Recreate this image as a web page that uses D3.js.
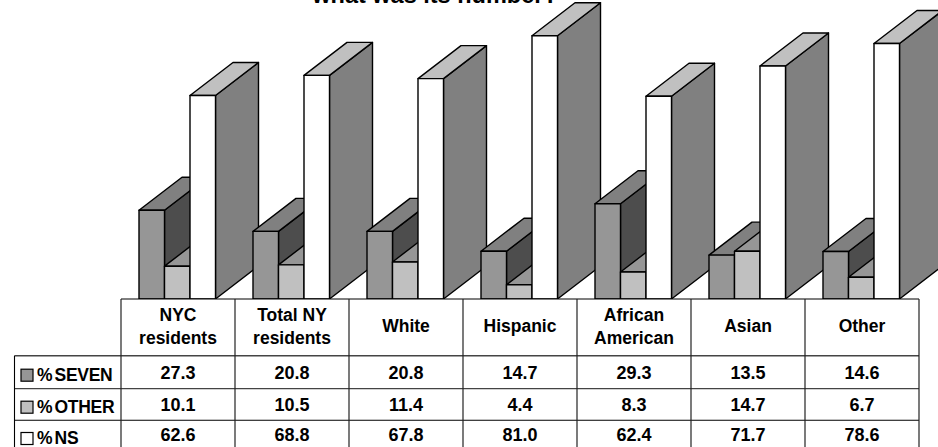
<!DOCTYPE html>
<html><head><meta charset="utf-8">
<script src="https://cdn.jsdelivr.net/npm/d3@7/dist/d3.min.js"></script>
<style>html,body{margin:0;padding:0;background:#fff;overflow:hidden}svg{display:block}
text{font-family:"Liberation Sans",Arial,sans-serif;font-weight:bold;fill:#000}</style>
</head><body><svg id="c" width="938" height="447"></svg>
<script>
const titleText = "what was its number?";
const categories = [["NYC","residents"],["Total NY","residents"],["White"],["Hispanic"],["African","American"],["Asian"],["Other"]];
const seriesNames = ["%SEVEN","%OTHER","%NS"];
const seven = [27.3,20.8,20.8,14.7,29.3,13.5,14.6];
const other = [10.1,10.5,11.4,4.4,8.3,14.7,6.7];
const ns = [62.6,68.8,67.8,81.0,62.4,71.7,78.6];
const series = [seven,other,ns];
const fronts = ["#969696","#c0c0c0","#ffffff"];
const tops = ["#808080","#969696","#c0c0c0"];
const sides = ["#4d4d4d","#808080","#808080"];

const svg = d3.select("#c");
const W = 114, tableLeft = 121, baseY = 299, depthX = 43, depthY = 33;
const x0 = d3.scaleBand().domain(d3.range(categories.length)).range([tableLeft, tableLeft + W*categories.length]);
const x1 = d3.scaleBand().domain(d3.range(3)).range([18, 94.5]);
const y = d3.scaleLinear().domain([0,100]).range([baseY, baseY-325]);

svg.append("text").attr("x",435).attr("y",3).attr("text-anchor","middle").attr("font-size",23.5).text(titleText);

const chart = svg.append("g").attr("stroke","#000").attr("stroke-width",1.4).attr("stroke-linejoin","round");
categories.forEach((c,i)=>{
  series.forEach((vals,s)=>{
    const l = x0(i)+x1(s), r = l+x1.bandwidth(), t = y(vals[i]), b = baseY;
    const g = chart.append("g");
    const pts = a=>a.map(p=>p.join(",")).join(" ");
    g.append("polygon").attr("points",pts([[r,b],[r+depthX,b-depthY],[r+depthX,t-depthY],[r,t]])).attr("fill",sides[s]);
    g.append("polygon").attr("points",pts([[l,t],[l+depthX,t-depthY],[r+depthX,t-depthY],[r,t]])).attr("fill",tops[s]);
    g.append("rect").attr("x",l).attr("y",t).attr("width",r-l).attr("height",b-t).attr("fill",fronts[s]);
  });
});

// data table
const rowsY = [299,355.7,388.7,420.2,452];
const tbl = svg.append("g");
const line=(a,b,c,d,col,w)=>tbl.append("line").attr("x1",a).attr("y1",b).attr("x2",c).attr("y2",d).attr("stroke",col||"#000").attr("stroke-width",w||1.1);
tbl.append("rect").attr("x",tableLeft).attr("y",rowsY[0]).attr("width",W*7).attr("height",rowsY[1]-rowsY[0]).attr("fill","#fff");
tbl.append("rect").attr("x",14.5).attr("y",rowsY[1]).attr("width",tableLeft-14.5+W*7).attr("height",rowsY[4]-rowsY[1]).attr("fill","#fff");
line(tableLeft,rowsY[0],tableLeft+W*7,rowsY[0]);
line(14.5,rowsY[1],tableLeft+W*7,rowsY[1],"#444",1.4);
line(14.5,rowsY[2],tableLeft+W*7,rowsY[2],"#444",1.3);
line(14.5,rowsY[3],tableLeft+W*7,rowsY[3]);
line(14.5,rowsY[1],14.5,rowsY[4]);
d3.range(8).forEach(i=>line(tableLeft+W*i,rowsY[0],tableLeft+W*i,rowsY[4],"#222",1.2));
const headBase = {1:[332.3],2:[320.7,344.3]};
categories.forEach((c,i)=>{
  const cx = x0(i)+W/2;
  c.forEach((t,k)=>svg.append("text").attr("x",cx).attr("y",headBase[c.length][k]).attr("text-anchor","middle").attr("font-size",17.5).text(t));
  series.forEach((vals,s)=>svg.append("text").attr("x",cx).attr("y",[379.4,410.8,441][s]).attr("text-anchor","middle").attr("font-size",18).text(vals[i].toFixed(1)));
});
seriesNames.forEach((n,s)=>{
  const ly = [380.7,412.7,444][s];
  svg.append("rect").attr("x",21).attr("y",ly-11.5).attr("width",12).attr("height",12).attr("fill",fronts[s]).attr("stroke","#000").attr("stroke-width",1.2);
  const t = svg.append("text").attr("x",37).attr("y",ly).attr("font-size",17.5);
  t.append("tspan").text(n.slice(0,1));
  t.append("tspan").attr("dx",2).attr("letter-spacing",-0.3).text(n.slice(1));
});
</script></body></html>
